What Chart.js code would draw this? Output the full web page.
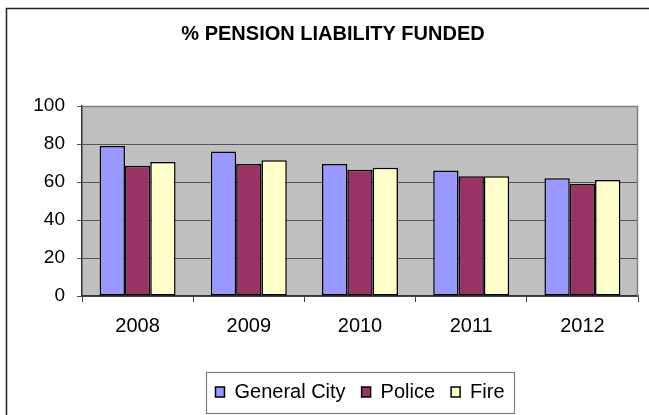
<!DOCTYPE html>
<html>
<head>
<meta charset="utf-8">
<script src="https://cdn.jsdelivr.net/npm/chart.js@4.4.1/dist/chart.umd.min.js"></script>
<style>
  html, body { margin: 0; padding: 0; background: #fff; }
  #wrap { width: 649px; height: 415px; position: relative; }
</style>
</head>
<body>
<div id="wrap"><canvas id="pensionChart"></canvas></div>
<script>
const years = ["2008", "2009", "2010", "2011", "2012"];
const generalCity = [79, 76, 69.5, 66, 62];
const police = [68.5, 69.5, 66.5, 63, 59];
const fire = [70.5, 71.5, 67.5, 63, 61];
const yTicks = [0, 20, 40, 60, 80, 100];

// white page, outer chart frame, grey plot area and its border
const framePlugin = {
  id: "frame",
  beforeDraw(chart) {
    const { ctx, chartArea } = chart;
    ctx.save();
    ctx.fillStyle = "#fff";
    ctx.fillRect(0, 0, chart.width, chart.height);
    ctx.strokeStyle = "#222";
    ctx.lineWidth = 1.5;
    ctx.beginPath();
    ctx.moveTo(6.5, chart.height + 5);
    ctx.lineTo(6.5, 8.5);
    ctx.lineTo(chart.width + 5, 8.5);
    ctx.stroke();
    ctx.fillStyle = "#C0C0C0";
    ctx.fillRect(chartArea.left, chartArea.top, chartArea.right - chartArea.left, chartArea.bottom - chartArea.top);
    ctx.restore();
  },
  beforeDatasetsDraw(chart) {
    const { ctx, chartArea } = chart;
    ctx.save();
    ctx.strokeStyle = "#808080";
    ctx.lineWidth = 1.5;
    ctx.beginPath();
    ctx.moveTo(chartArea.left, chartArea.top + 0.5);
    ctx.lineTo(chartArea.right - 0.5, chartArea.top + 0.5);
    ctx.lineTo(chartArea.right - 0.5, chartArea.bottom);
    ctx.stroke();
    ctx.restore();
  },
  afterDraw(chart) {
    // box round the legend
    const boxes = chart.legend && chart.legend.legendHitBoxes;
    if (!boxes || !boxes.length) return;
    const first = boxes[0];
    const last = boxes[boxes.length - 1];
    const midY = first.top + first.height / 2;
    const ctx = chart.ctx;
    ctx.save();
    ctx.strokeStyle = "#808080";
    ctx.lineWidth = 1.2;
    ctx.strokeRect(Math.round(first.left - 9) + 0.5, Math.round(midY - 20) + 0.5,
      Math.round(last.left + last.width + 10 - (first.left - 9)), 41);
    ctx.restore();
  },
};

const ctx = document.getElementById("pensionChart").getContext("2d");
new Chart(ctx, {
  type: "bar",
  data: {
    labels: years,
    datasets: [
      { label: "General City", data: generalCity, backgroundColor: "#9999FF" },
      { label: "Police", data: police, backgroundColor: "#993366" },
      { label: "Fire", data: fire, backgroundColor: "#FFFFCC" },
    ],
  },
  options: {
    responsive: true,
    maintainAspectRatio: false,
    animation: false,
    devicePixelRatio: 1,
    layout: { padding: { left: 28, right: 11, top: 0, bottom: 3 } },
    datasets: {
      bar: {
        borderColor: "#000",
        borderWidth: 1.5,
        borderSkipped: false,
        categoryPercentage: 0.683,
        barPercentage: 1.0,
      },
    },
    plugins: {
      title: {
        display: true,
        text: "% PENSION LIABILITY FUNDED",
        color: "#000",
        font: { family: "Liberation Sans, Arial, sans-serif", size: 20, weight: "bold", lineHeight: 1.2 },
        padding: { top: 22.5, bottom: 59.5 },
      },
      legend: {
        position: "bottom",
        fullSize: false,
        labels: {
          color: "#000",
          boxWidth: 9,
          boxHeight: 10,
          padding: 16,
          font: { family: "Liberation Sans, Arial, sans-serif", size: 20 },
        },
      },
      tooltip: { enabled: false },
    },
    scales: {
      x: {
        grid: { display: true, drawOnChartArea: false, drawTicks: true, tickLength: 6, color: "#404040", offset: true },
        border: { display: true, color: "#333", width: 1.5 },
        ticks: {
          color: "#000",
          padding: 12.5,
          maxRotation: 0,
          font: { family: "Liberation Sans, Arial, sans-serif", size: 20, lineHeight: 1.2 },
        },
        afterFit: (scale) => { scale.height = 70; },
      },
      y: {
        min: 0,
        max: 100,
        afterBuildTicks: (scale) => { scale.ticks = yTicks.map((v) => ({ value: v })); },
        grid: { color: "#555", lineWidth: 1, tickLength: 5 },
        border: { display: true, color: "#333", width: 1.5 },
        ticks: {
          color: "#000",
          padding: 12,
          font: { family: "Liberation Sans, Arial, sans-serif", size: 19 },
        },
        afterFit: (scale) => { scale.width = 54; },
      },
    },
  },
  plugins: [framePlugin],
});
</script>
</body>
</html>
